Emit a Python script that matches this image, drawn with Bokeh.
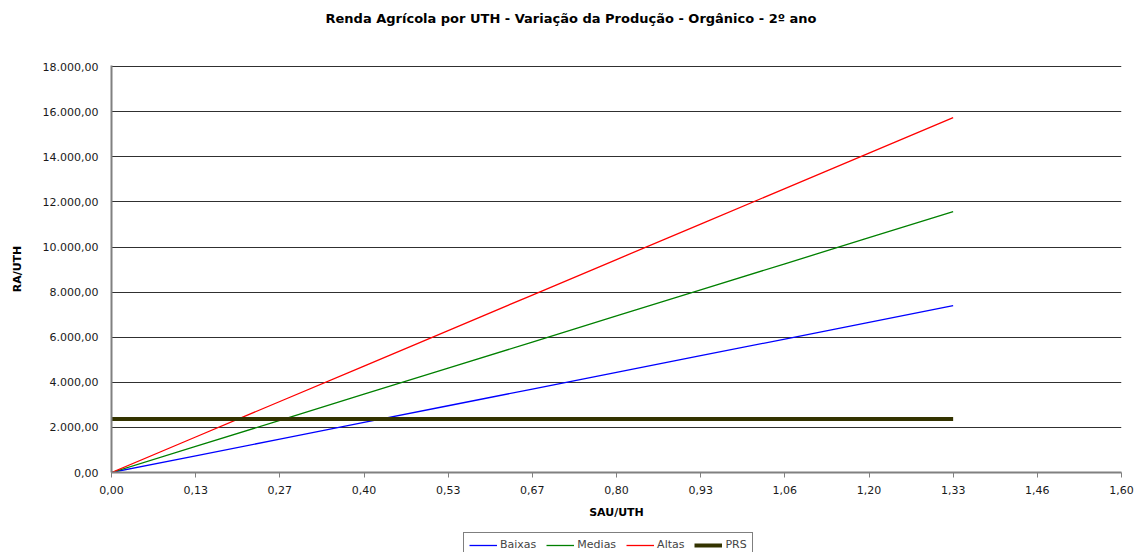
from bokeh.plotting import figure
from bokeh.models import (Legend, LegendItem, FixedTicker, CustomJSTickFormatter, Range1d,
                          Title)
from bokeh.layouts import column
from bokeh.embed import file_html
from bokeh.resources import INLINE

# ---- data ----
sau_uth = [0.0, 0.1333, 0.2667, 0.4, 0.5333, 0.6667, 0.8, 0.9333, 1.0667, 1.2, 1.3333]
baixas = [0, 740, 1480, 2220, 2960, 3700, 4440, 5180, 5920, 6660, 7400]
medias = [0, 1157, 2314, 3471, 4628, 5785, 6942, 8099, 9256, 10413, 11570]
altas = [0, 1574, 3148, 4722, 6296, 7870, 9444, 11018, 12592, 14166, 15740]
prs = [2370] * 11

series_names = ["Baixas", "Medias", "Altas", "PRS"]
x_ticks = [0.0, 0.1333, 0.2667, 0.4, 0.5333, 0.6667, 0.8, 0.9333, 1.0667, 1.2, 1.3333, 1.4667, 1.6]
x_tick_labels = ["0,00", "0,13", "0,27", "0,40", "0,53", "0,67", "0,80", "0,93", "1,06",
                 "1,20", "1,33", "1,46", "1,60"]
y_ticks = [0, 2000, 4000, 6000, 8000, 10000, 12000, 14000, 16000, 18000]

title_text = "Renda Agrícola por UTH - Variação da Produção - Orgânico - 2º ano"
FONT = "DejaVu Sans"
colors = ["#0000ff", "#008000", "#ff0000", "#333300"]
widths = [1.3, 1.3, 1.3, 4]
all_series = [baixas, medias, altas, prs]

p = figure(width=1135, height=528, output_backend="svg", toolbar_location=None,
           x_range=Range1d(0, 1.6), y_range=Range1d(0, 18050),
           min_border_left=111, min_border_right=14, min_border_top=65, min_border_bottom=56,
           title=title_text)
p.outline_line_color = None
p.background_fill_color = "white"
p.border_fill_color = "white"

# real title (outermost) + spacer title (next to frame)
p.title.align = "left"
p.title.offset = 214
p.title.vertical_align = "middle"
p.title.standoff = 0
p.title.text_font = FONT
p.title.text_font_size = "13px"
p.title.text_font_style = "bold"
p.title.text_color = "black"
spacer = Title(text=" ", text_font_size="11px", standoff=25, text_color="white")
p.add_layout(spacer, "above")

# grid
p.xgrid.grid_line_color = None
p.ygrid.grid_line_color = "#303030"
p.ygrid.grid_line_width = 1
p.ygrid.ticker = FixedTicker(ticks=y_ticks)

# y axis
p.yaxis.ticker = FixedTicker(ticks=y_ticks)
p.yaxis.formatter = CustomJSTickFormatter(code="""
const s = tick.toFixed(2);
let [ip, dp] = s.split('.');
ip = ip.replace(/\\B(?=(\\d{3})+(?!\\d))/g, '.');
return ip + ',' + dp;
""")
p.yaxis.major_tick_line_color = None
p.yaxis.minor_tick_line_color = None
p.yaxis.axis_line_color = "#808080"
p.yaxis.axis_line_width = 2
p.yaxis.major_label_standoff = 7
p.yaxis.axis_label = "RA/UTH"
p.yaxis.axis_label_standoff = 16

# x axis
p.xaxis.ticker = FixedTicker(ticks=x_ticks)
p.xaxis.major_label_overrides = {t: l for t, l in zip(x_ticks, x_tick_labels)}
p.xaxis.major_tick_in = 0
p.xaxis.major_tick_out = 5
p.xaxis.major_tick_line_color = "#808080"
p.xaxis.minor_tick_line_color = None
p.xaxis.axis_line_color = "#808080"
p.xaxis.axis_line_width = 2
p.xaxis.major_label_standoff = 8
p.xaxis.axis_label = "SAU/UTH"
p.xaxis.axis_label_standoff = 9

for ax in (p.xaxis[0], p.yaxis[0]):
    ax.major_label_text_font = FONT
    ax.major_label_text_font_size = "11px"
    ax.major_label_text_color = "#1a1a1a"
    ax.axis_label_text_font = FONT
    ax.axis_label_text_font_size = "11px"
    ax.axis_label_text_font_style = "bold"
    ax.axis_label_text_color = "#000000"

# lines
for ys, c, w in zip(all_series, colors, widths):
    p.line(sau_uth, ys, line_color=c, line_width=w)

# legend strip (separate small figure below the chart; its view range shows no data,
# the series are drawn there only to feed the legend glyphs)
p2 = figure(width=1135, height=24, output_backend="svg", toolbar_location=None,
            x_axis_type=None, y_axis_type=None, x_range=Range1d(5, 6), y_range=Range1d(-3, -2),
            min_border=0)
p2.outline_line_color = None
p2.grid.grid_line_color = None
items = []
for name, ys, c, w in zip(series_names, all_series, colors, widths):
    r = p2.line(sau_uth, ys, line_color=c, line_width=w)
    items.append(LegendItem(label=name, renderers=[r]))
legend = Legend(items=items, orientation="horizontal", location=(352, -5),
                label_text_font=FONT, label_text_font_size="11px",
                glyph_width=28, glyph_height=10, label_standoff=3, spacing=10,
                padding=5, margin=0, border_line_color="black", border_line_width=1,
                label_height=12)
p2.add_layout(legend, "center")

layout = column(p, p2, spacing=0)
open("out.html", "w").write(file_html(layout, INLINE))
